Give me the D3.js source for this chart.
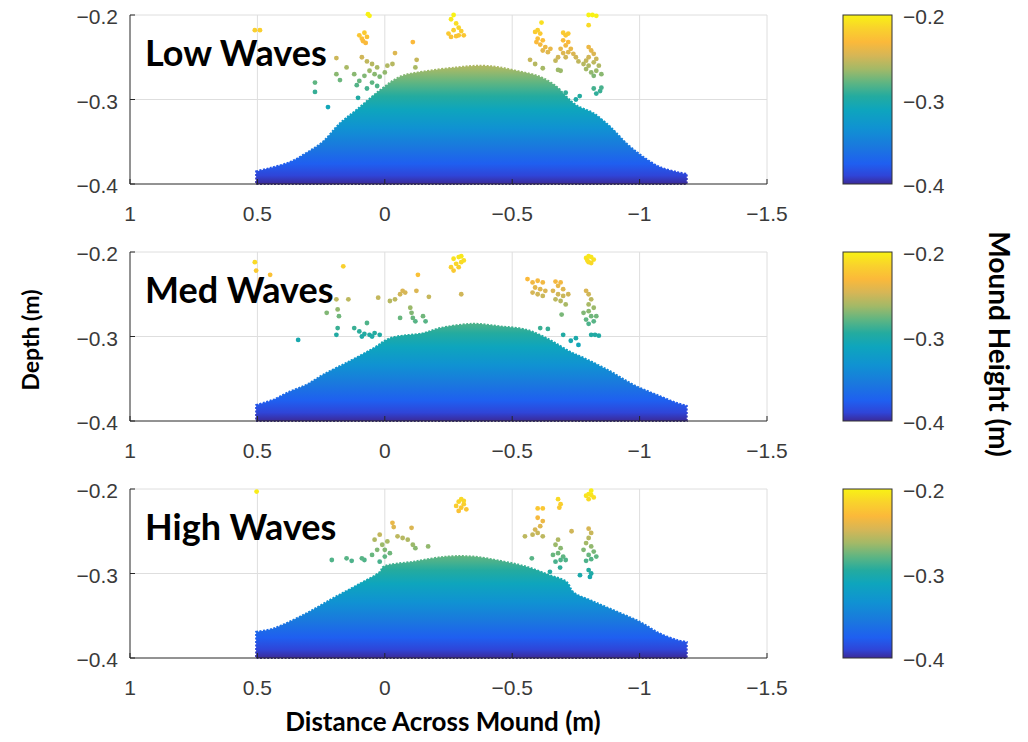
<!DOCTYPE html>
<html>
<head>
<meta charset="utf-8">
<script src="https://cdn.jsdelivr.net/npm/d3@7"></script>
<style>
  body { margin: 0; background: #fff; }
  svg { display: block; }
  .tick-label { font-family: "Liberation Sans", Arial, sans-serif; font-size: 21px; fill: #3a3a3a; }
  .title { font-family: Lato, "Open Sans", sans-serif; font-weight: bold; fill: #000; }
</style>
</head>
<body>
<svg id="chart"></svg>
<script>
// axes
const xTicks = [1, 0.5, 0, -0.5, -1, -1.5];
const xTickLabels = ["1", "0.5", "0", "\u22120.5", "\u22121", "\u22121.5"];
const yTicks = [-0.2, -0.3, -0.4];
const yTickLabels = ["\u22120.2", "\u22120.3", "\u22120.4"];
const panelNames = ["Low Waves", "Med Waves", "High Waves"];

// parula colour stops (position 0..1 along -0.4..-0.2)
const parulaPos = [0, 0.05, 0.12, 0.22, 0.33, 0.44, 0.52, 0.6, 0.68, 0.76, 0.84, 0.92, 1];
const parulaCol = ["#3b2a98", "#2f45d8", "#1f5ff0", "#1a78de", "#1092d2", "#0ea5bd", "#24ab9f",
                   "#5fb582", "#a3b967", "#d6b656", "#fbb93a", "#f9d22c", "#f8f214"];

// top surface of the mound [distance, depth]
const lowProfile = [[0.505,-0.385],[0.45,-0.381],[0.372,-0.374],[0.307,-0.363],[0.243,-0.35],[0.176,-0.328],
  [0.11,-0.312],[0.019,-0.289],[-0.06,-0.273],[-0.15,-0.267],[-0.282,-0.262],[-0.38,-0.26],[-0.452,-0.262],
  [-0.53,-0.267],[-0.609,-0.273],[-0.675,-0.285],[-0.714,-0.297],[-0.753,-0.307],[-0.818,-0.316],
  [-0.884,-0.332],[-0.949,-0.352],[-1.015,-0.368],[-1.08,-0.38],[-1.15,-0.386],[-1.185,-0.388]];
const medProfile = [[0.505,-0.381],[0.44,-0.375],[0.372,-0.365],[0.307,-0.357],[0.241,-0.345],[0.137,-0.329],
  [0.045,-0.314],[-0.02,-0.302],[-0.151,-0.296],[-0.217,-0.29],[-0.347,-0.285],[-0.452,-0.288],
  [-0.556,-0.292],[-0.648,-0.304],[-0.727,-0.318],[-0.779,-0.325],[-0.884,-0.341],[-0.975,-0.357],
  [-1.067,-0.369],[-1.15,-0.379],[-1.185,-0.382]];
const highProfile = [[0.505,-0.369],[0.437,-0.365],[0.307,-0.347],[0.202,-0.329],[0.11,-0.314],[0.019,-0.298],
  [0.006,-0.292],[-0.112,-0.286],[-0.243,-0.28],[-0.347,-0.28],[-0.452,-0.285],[-0.556,-0.292],
  [-0.648,-0.302],[-0.714,-0.31],[-0.74,-0.322],[-0.818,-0.333],[-0.91,-0.345],[-1.0,-0.357],
  [-1.08,-0.371],[-1.15,-0.379],[-1.185,-0.381]];

// loose points above the mound [distance, depth]
const lowScatter = [[0.51,-0.218],[0.49,-0.218],[0.066,-0.199],[0.06,-0.201],
  [0.1,-0.224],[0.09,-0.228],[0.085,-0.231],[0.075,-0.233],[0.07,-0.226],[0.08,-0.221],[0.19,-0.251],
  [0.274,-0.28],[0.274,-0.291],[0.223,-0.309],[0.176,-0.277],[0.15,-0.262],[0.105,-0.298],[0.19,-0.27],
  [0.09,-0.25],[0.07,-0.255],[0.05,-0.258],[0.03,-0.262],[0.06,-0.266],[0.04,-0.27],[0.02,-0.273],
  [0.08,-0.272],[0.1,-0.278],[0.12,-0.27],[0.0,-0.268],[-0.01,-0.26],[0.05,-0.28],[0.03,-0.284],
  [0.07,-0.287],[0.11,-0.283],[-0.04,-0.245],[-0.11,-0.232],[-0.125,-0.253],[-0.12,-0.262],[-0.03,-0.258],
  [-0.27,-0.2],[-0.26,-0.205],[-0.28,-0.21],[-0.29,-0.215],[-0.27,-0.218],[-0.25,-0.222],[-0.26,-0.226],
  [-0.29,-0.224],[-0.31,-0.224],[-0.3,-0.219],[-0.28,-0.225],
  [-0.8,-0.2],[-0.815,-0.2],[-0.83,-0.201],[-0.8,-0.212],[-0.615,-0.209],
  [-0.59,-0.22],[-0.6,-0.218],[-0.61,-0.222],[-0.6,-0.228],[-0.62,-0.23],[-0.61,-0.235],[-0.63,-0.238],
  [-0.62,-0.242],[-0.64,-0.244],[-0.65,-0.24],[-0.595,-0.232],
  [-0.7,-0.221],[-0.71,-0.224],[-0.72,-0.222],[-0.7,-0.23],[-0.71,-0.236],[-0.72,-0.232],[-0.69,-0.24],
  [-0.7,-0.245],[-0.68,-0.25],[-0.67,-0.254],[-0.73,-0.24],[-0.74,-0.246],[-0.75,-0.25],[-0.76,-0.255],
  [-0.71,-0.25],[-0.72,-0.244],
  [-0.8,-0.238],[-0.81,-0.242],[-0.82,-0.246],[-0.8,-0.25],[-0.79,-0.254],[-0.78,-0.258],[-0.8,-0.26],
  [-0.82,-0.256],[-0.83,-0.252],[-0.84,-0.26],[-0.83,-0.266],[-0.81,-0.268],[-0.79,-0.264],[-0.85,-0.27],
  [-0.82,-0.272],[-0.82,-0.287],[-0.83,-0.293],[-0.845,-0.29],[-0.85,-0.286],
  [-0.71,-0.292],[-0.765,-0.296],[-0.75,-0.3],[-0.57,-0.253],[-0.59,-0.258],[-0.62,-0.263],
  [-0.68,-0.265],[-0.69,-0.266]];
const medScatter = [[0.51,-0.212],[0.505,-0.222],[0.45,-0.227],[0.163,-0.217],[0.34,-0.304],
  [0.19,-0.256],[0.185,-0.268],[0.18,-0.276],[0.185,-0.29],[0.19,-0.298],[0.228,-0.272],[0.143,-0.256],
  [0.12,-0.29],[0.1,-0.294],[0.08,-0.297],[0.06,-0.298],[0.04,-0.296],[0.02,-0.298],[0.09,-0.3],[0.05,-0.3],
  [0.07,-0.284],[0.026,-0.254],[-0.02,-0.258],[-0.04,-0.256],[-0.06,-0.25],[-0.07,-0.246],[-0.08,-0.248],
  [-0.06,-0.278],[-0.1,-0.266],[-0.105,-0.272],[-0.11,-0.278],[-0.12,-0.282],[-0.124,-0.246],[-0.13,-0.227],
  [-0.15,-0.276],[-0.16,-0.282],[-0.173,-0.253],
  [-0.27,-0.208],[-0.29,-0.206],[-0.3,-0.212],[-0.28,-0.214],[-0.26,-0.218],[-0.27,-0.222],[-0.29,-0.218],
  [-0.31,-0.21],[-0.3,-0.205],[-0.3,-0.25],
  [-0.79,-0.207],[-0.8,-0.205],[-0.81,-0.206],[-0.82,-0.209],[-0.8,-0.212],[-0.81,-0.213],[-0.795,-0.21],
  [-0.56,-0.232],[-0.58,-0.236],[-0.6,-0.234],[-0.62,-0.236],[-0.59,-0.242],[-0.61,-0.244],[-0.6,-0.25],
  [-0.62,-0.252],[-0.58,-0.248],[-0.63,-0.246],
  [-0.67,-0.235],[-0.69,-0.236],[-0.68,-0.24],[-0.7,-0.244],[-0.66,-0.246],[-0.68,-0.25],[-0.7,-0.252],
  [-0.69,-0.258],[-0.71,-0.262],[-0.67,-0.256],[-0.72,-0.25],
  [-0.79,-0.246],[-0.8,-0.25],[-0.81,-0.256],[-0.8,-0.262],[-0.82,-0.266],[-0.8,-0.27],[-0.81,-0.276],
  [-0.79,-0.28],[-0.82,-0.282],[-0.78,-0.272],[-0.83,-0.276],[-0.8,-0.285],
  [-0.694,-0.274],[-0.81,-0.298],[-0.825,-0.298],[-0.84,-0.299],[-0.61,-0.29],[-0.64,-0.291],
  [-0.7,-0.298],[-0.73,-0.305],[-0.76,-0.31],[-0.75,-0.302]];
const highScatter = [[0.503,-0.203],[0.208,-0.284],[0.15,-0.282],[0.13,-0.285],[0.08,-0.284],[0.09,-0.282],
  [0.04,-0.26],[0.02,-0.254],[0.01,-0.266],[0.0,-0.272],[-0.01,-0.262],[0.0,-0.28],[0.02,-0.286],
  [-0.02,-0.276],[0.03,-0.272],[0.05,-0.278],[-0.03,-0.24],[-0.035,-0.245],[-0.05,-0.256],[-0.07,-0.258],
  [-0.09,-0.26],[-0.105,-0.246],[-0.11,-0.266],[-0.12,-0.27],[-0.17,-0.268],
  [-0.29,-0.215],[-0.3,-0.212],[-0.31,-0.218],[-0.3,-0.222],[-0.29,-0.226],[-0.32,-0.224],[-0.31,-0.214],
  [-0.28,-0.22],
  [-0.79,-0.208],[-0.8,-0.206],[-0.81,-0.207],[-0.82,-0.21],[-0.8,-0.212],[-0.81,-0.202],
  [-0.68,-0.212],[-0.69,-0.218],[-0.685,-0.222],[-0.6,-0.223],[-0.62,-0.223],
  [-0.6,-0.234],[-0.62,-0.238],[-0.61,-0.244],[-0.59,-0.248],[-0.6,-0.252],[-0.62,-0.256],[-0.58,-0.254],
  [-0.55,-0.256],
  [-0.68,-0.26],[-0.67,-0.266],[-0.69,-0.27],[-0.68,-0.276],[-0.7,-0.28],[-0.66,-0.278],[-0.71,-0.284],
  [-0.69,-0.284],[-0.67,-0.286],
  [-0.8,-0.247],[-0.81,-0.252],[-0.8,-0.258],[-0.79,-0.264],[-0.81,-0.268],[-0.82,-0.274],[-0.8,-0.278],
  [-0.78,-0.272],[-0.81,-0.283],[-0.83,-0.28],[-0.79,-0.285],
  [-0.733,-0.25],[-0.577,-0.282],[-0.648,-0.298],[-0.766,-0.302],[-0.8,-0.296],[-0.81,-0.3],[-0.805,-0.304],
  [-0.688,-0.293]];

const profiles = [lowProfile, medProfile, highProfile];
const scatters = [lowScatter, medScatter, highScatter];

const width = 1028, height = 742;
const plotLeft = 130, plotRight = 767;
const panelTops = [15, 252, 489];
const panelH = 169;
const cbX = 843, cbW = 49;

const svg = d3.select("#chart").attr("width", width).attr("height", height);

const x = d3.scaleLinear().domain([1, -1.5]).range([plotLeft, plotRight]);
const y = d3.scaleLinear().domain([-0.4, -0.2]).range([panelH, 0]);
const color = d3.scaleLinear()
  .domain(parulaPos.map(p => -0.4 + p * 0.2))
  .range(parulaCol)
  .clamp(true);

// shared vertical gradient in panel coordinates
const defs = svg.append("defs");
const grad = defs.append("linearGradient")
  .attr("id", "parula")
  .attr("gradientUnits", "userSpaceOnUse")
  .attr("x1", 0).attr("x2", 0)
  .attr("y1", y(-0.4)).attr("y2", y(-0.2));
grad.selectAll("stop")
  .data(parulaPos)
  .enter().append("stop")
  .attr("offset", d => d)
  .attr("stop-color", (d, i) => parulaCol[i]);

const area = d3.area()
  .x(d => x(d[0]))
  .y0(y(-0.4))
  .y1(d => y(d[1]))
  .curve(d3.curveCatmullRom);

panelNames.forEach((name, i) => {
  const g = svg.append("g").attr("transform", `translate(0,${panelTops[i]})`);

  // grid
  g.append("g").selectAll("line")
    .data(xTicks.slice(1))
    .enter().append("line")
    .attr("x1", d => x(d)).attr("x2", d => x(d))
    .attr("y1", 0).attr("y2", panelH)
    .attr("stroke", "#dedede").attr("stroke-width", 1);
  g.append("g").selectAll("line")
    .data(yTicks.slice(0, 2))
    .enter().append("line")
    .attr("x1", plotLeft).attr("x2", plotRight)
    .attr("y1", d => y(d)).attr("y2", d => y(d))
    .attr("stroke", "#dedede").attr("stroke-width", 1);

  // mound
  g.append("path")
    .datum(profiles[i])
    .attr("d", area)
    .attr("fill", "url(#parula)")
    .attr("stroke", "url(#parula)")
    .attr("stroke-width", 2)
    .attr("stroke-dasharray", "2 1.5");

  // loose points
  g.append("g").selectAll("circle")
    .data(scatters[i])
    .enter().append("circle")
    .attr("cx", d => x(d[0]))
    .attr("cy", d => y(d[1]))
    .attr("r", 2.4)
    .attr("fill", d => color(d[1]));

  // axes lines + inward ticks
  g.append("line")
    .attr("x1", plotLeft).attr("x2", plotLeft)
    .attr("y1", 0).attr("y2", panelH)
    .attr("stroke", "#262626");
  g.append("line")
    .attr("x1", plotLeft).attr("x2", plotRight)
    .attr("y1", panelH).attr("y2", panelH)
    .attr("stroke", "#262626");
  g.append("g").selectAll("line")
    .data(xTicks)
    .enter().append("line")
    .attr("x1", d => x(d)).attr("x2", d => x(d))
    .attr("y1", panelH).attr("y2", panelH - 5)
    .attr("stroke", "#262626");
  g.append("g").selectAll("line")
    .data(yTicks)
    .enter().append("line")
    .attr("x1", plotLeft).attr("x2", plotLeft + 5)
    .attr("y1", d => y(d)).attr("y2", d => y(d))
    .attr("stroke", "#262626");

  // tick labels
  g.append("g").selectAll("text")
    .data(xTicks)
    .enter().append("text")
    .attr("class", "tick-label")
    .attr("x", d => x(d))
    .attr("y", panelH + 37)
    .attr("text-anchor", "middle")
    .text((d, j) => xTickLabels[j]);
  g.append("g").selectAll("text")
    .data(yTicks)
    .enter().append("text")
    .attr("class", "tick-label")
    .attr("x", plotLeft - 12)
    .attr("y", d => y(d) + 9)
    .attr("text-anchor", "end")
    .text((d, j) => yTickLabels[j]);

  // panel name
  g.append("text")
    .attr("class", "title")
    .attr("x", 145)
    .attr("y", 51)
    .style("font-size", "36px")
    .text(name);

  // colorbar
  g.append("rect")
    .attr("x", cbX).attr("y", 0)
    .attr("width", cbW).attr("height", panelH)
    .attr("fill", "url(#parula)")
    .attr("stroke", "#333").attr("stroke-width", 1);
  g.append("g").selectAll("text")
    .data(yTicks)
    .enter().append("text")
    .attr("class", "tick-label")
    .attr("x", cbX + cbW + 11)
    .attr("y", d => y(d) + 9)
    .text((d, j) => yTickLabels[j]);
});

// axis titles
svg.append("text")
  .attr("class", "title")
  .attr("x", 443).attr("y", 731)
  .attr("text-anchor", "middle")
  .style("font-size", "26px")
  .text("Distance Across Mound (m)");
svg.append("text")
  .attr("class", "title")
  .attr("transform", "translate(39,340) rotate(-90)")
  .attr("text-anchor", "middle")
  .style("font-size", "23px")
  .text("Depth (m)");
svg.append("text")
  .attr("class", "title")
  .attr("transform", "translate(989,344) rotate(90)")
  .attr("text-anchor", "middle")
  .style("font-size", "28px")
  .text("Mound Height (m)");
</script>
</body>
</html>
